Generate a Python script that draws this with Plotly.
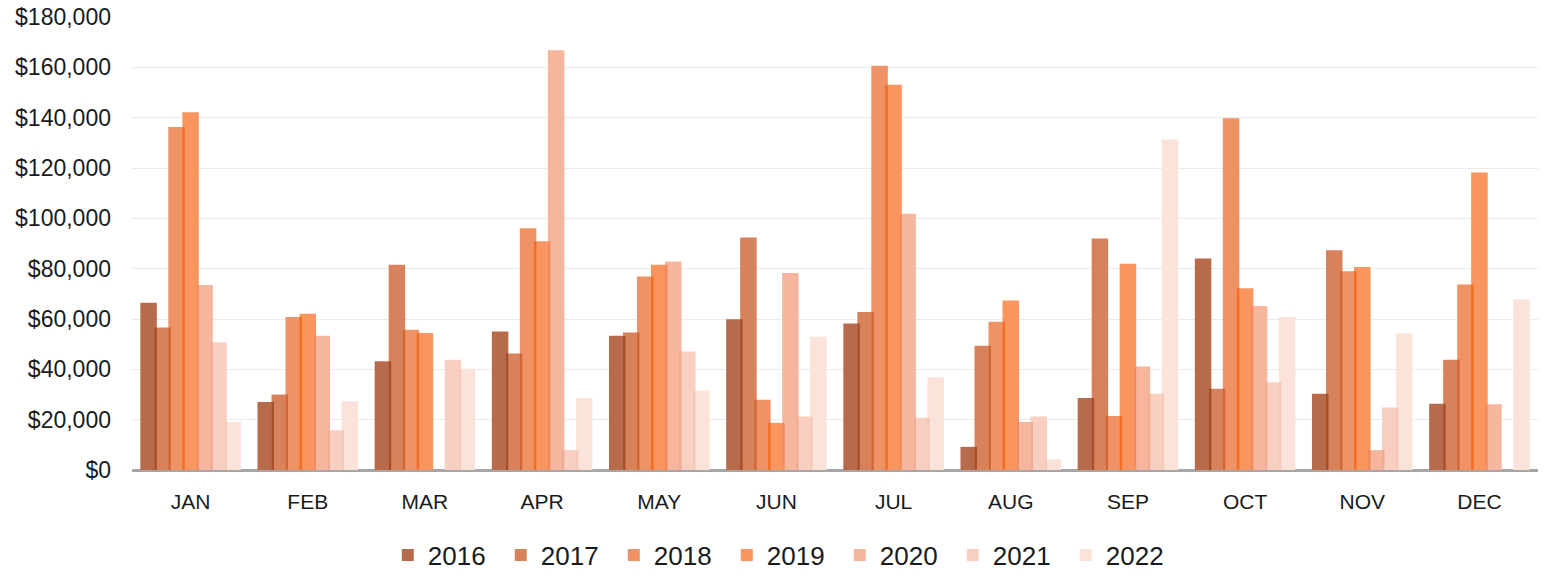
import plotly.graph_objects as go

months = ["JAN", "FEB", "MAR", "APR", "MAY", "JUN", "JUL", "AUG", "SEP", "OCT", "NOV", "DEC"]
years = ["2016", "2017", "2018", "2019", "2020", "2021", "2022"]

sales_2016 = [66500, 27000, 43200, 55000, 53300, 59900, 58200, 9200, 28600, 84000, 30300, 26300]
sales_2017 = [56600, 30000, 81600, 46300, 54600, 92400, 62800, 49400, 92000, 32300, 87300, 43800]
sales_2018 = [136300, 60800, 55700, 96100, 76900, 27900, 160600, 58900, 21500, 139800, 79000, 73700]
sales_2019 = [142200, 62100, 54400, 90900, 81600, 18700, 153100, 67400, 82000, 72200, 80700, 118200]
sales_2020 = [73500, 53300, 0, 166800, 82800, 78300, 101800, 19100, 41100, 65200, 7900, 26100]
sales_2021 = [50700, 15800, 43800, 7900, 47100, 21300, 20800, 21300, 30300, 34900, 24800, 0]
sales_2022 = [19100, 27300, 40200, 28600, 31600, 52900, 36900, 4300, 131300, 60800, 54200, 67800]

series = [sales_2016, sales_2017, sales_2018, sales_2019, sales_2020, sales_2021, sales_2022]
colors = ["#b76b4b", "#d8825b", "#ef9366", "#f9955f", "#f6b59d", "#f8cfc0", "#fbe3da"]
# darker tint where neighbouring bars overlap (printed-ink look)
overlap_colors = ["#a5502a", "#cf6836", "#f36e24", "#f28a5c", "#f0ab92", "#f5c9b8"]

# bar geometry in category units (one category = 1.0)
step = 0.1195
width = 0.141
total = step * (len(years) - 1) + width
ov = width - step

fig = go.Figure()
for i, (yr, vals, col) in enumerate(zip(years, series, colors)):
    fig.add_trace(go.Bar(
        x=months, y=vals, name=yr,
        marker=dict(color=col, line=dict(width=0)),
        width=width, offset=-total / 2 + i * step,
    ))

for i in range(len(years) - 1):
    low = [min(a, b) for a, b in zip(series[i], series[i + 1])]
    fig.add_trace(go.Bar(
        x=months, y=low, showlegend=False, hoverinfo="skip",
        marker=dict(color=overlap_colors[i], line=dict(width=0)),
        width=ov, offset=-total / 2 + (i + 1) * step,
    ))

fig.update_layout(
    width=1548, height=577,
    margin=dict(l=132, r=10, t=17, b=107),
    barmode="overlay",
    plot_bgcolor="white", paper_bgcolor="white",
    font=dict(family="Liberation Sans, Arial, sans-serif", color="#1a1a1a"),
    legend=dict(
        orientation="h", xref="container", yref="container",
        x=0.506, xanchor="center", y=0.038, yanchor="middle",
        font=dict(size=26), entrywidth=68, itemwidth=30,
        traceorder="normal", bgcolor="rgba(0,0,0,0)",
    ),
    xaxis=dict(
        type="category", tickfont=dict(size=21), ticks="",
        showgrid=False, showline=False, ticklabelstandoff=17,
        range=[-0.5, 11.5], automargin=False,
    ),
    yaxis=dict(
        range=[0, 180000], dtick=20000, tickprefix="$", tickformat=",d",
        tickfont=dict(size=23), showgrid=True, gridcolor="#ebebeb", gridwidth=1,
        zeroline=True, zerolinecolor="#a6a6a6", zerolinewidth=3,
        showline=False, ticklabelstandoff=20, automargin=False,
    ),
)

fig.write_html("out.html")
